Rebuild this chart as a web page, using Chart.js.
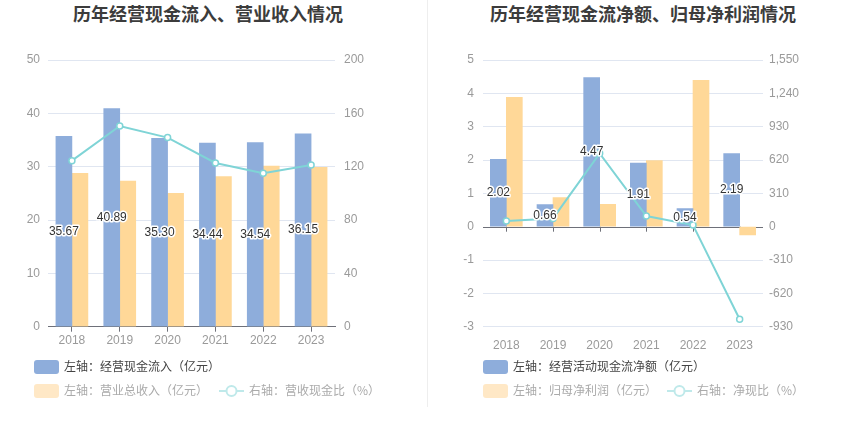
<!DOCTYPE html>
<html>
<head>
<meta charset="utf-8">
<script src="https://cdn.jsdelivr.net/npm/chart.js@4/dist/chart.umd.min.js"></script>
<style>
  html, body { margin: 0; padding: 0; background: #fff; }
  body { width: 850px; height: 437px; position: relative; overflow: hidden;
         font-family: 'Liberation Sans', 'Noto Sans CJK SC', sans-serif; }
  .title { position: absolute; top: 2px; height: 22px; line-height: 22px; text-align: center;
           font-family: 'Noto Sans CJK SC', sans-serif; font-weight: bold; font-size: 18px; color: #3c3c3c; white-space: nowrap; }
  .divider { position: absolute; left: 427px; top: 0; width: 1px; height: 407px; background: #eeeeee; }
  canvas { position: absolute; top: 0; }
  .lg { position: absolute; height: 14px; line-height: 14px; font-size: 12px; white-space: nowrap;
        font-family: 'Noto Sans CJK SC', sans-serif; }
  .lg .box { position: absolute; left: 0; top: 0; width: 25px; height: 14px; border-radius: 3px; }
  .lg .sym { position: absolute; left: 0; top: 0; width: 25px; height: 14px; }
  .lg .txt { position: absolute; left: 30px; top: -1px; }
</style>
</head>
<body>
<div class="title" style="left:0;width:416px;">历年经营现金流入、营业收入情况</div>
<div class="title" style="left:425px;width:436px;">历年经营现金流净额、归母净利润情况</div>
<div class="divider"></div>
<canvas id="c1" width="425" height="437" style="left:0"></canvas>
<canvas id="c2" width="425" height="437" style="left:425px"></canvas>
<div id="legends"></div>
<script>
// ---------- data ----------
const years = ['2018', '2019', '2020', '2021', '2022', '2023'];

// left chart
const cashInflow = [35.67, 40.89, 35.30, 34.44, 34.54, 36.15];   // 亿元
const totalRevenue = [28.75, 27.31, 25.00, 28.13, 30.13, 29.88]; // 亿元
const revenueCashRatio = [124.5, 150.5, 141.8, 122.8, 115.0, 121.3]; // %
const leftTicks = { min: 0, max: 50, step: 10 };
const leftTicksR = { min: 0, max: 200, step: 40 };

// right chart
const netCashFlow = [2.02, 0.66, 4.47, 1.91, 0.54, 2.19];       // 亿元
const netProfit = [3.88, 0.87, 0.67, 1.98, 4.39, -0.25];         // 亿元
const netCashRatio = [52.5, 77.0, 682.0, 99.0, 15.5, -861.0];    // %
const rightTicks = { min: -3, max: 5, step: 1 };
const rightTicksR = { min: -930, max: 1550, step: 310 };

const labels1 = ['左轴：经营现金流入（亿元）', '左轴：营业总收入（亿元）', '右轴：营收现金比（%）'];
const labels2 = ['左轴：经营活动现金流净额（亿元）', '左轴：归母净利润（亿元）', '右轴：净现比（%）'];

// ---------- styles ----------
const BLUE = '#8eaddb';
const ORANGE = '#ffd898';
const CYAN = '#7fd4d6';
const GRID = '#e0e6f1';
const AXIS = '#6e7079';
const TICK = '#9a9a9a';
const FONT = "'Liberation Sans', 'Noto Sans CJK SC', sans-serif";

Chart.defaults.font.family = FONT;
Chart.defaults.font.size = 12;
Chart.defaults.color = TICK;

const barLabelPlugin = {
  id: 'barLabels',
  afterDatasetsDraw(chart) {
    const meta = chart.getDatasetMeta(0);
    const ctx = chart.ctx;
    ctx.save();
    ctx.font = '12px ' + FONT;
    ctx.textAlign = 'center';
    ctx.textBaseline = 'middle';
    ctx.lineJoin = 'round';
    meta.data.forEach((el, i) => {
      const v = chart.data.datasets[0].data[i];
      const txt = v.toFixed(2);
      const y = (el.y + el.base) / 2;
      ctx.strokeStyle = '#ffffff';
      ctx.lineWidth = 3;
      ctx.strokeText(txt, el.x, y);
      ctx.fillStyle = '#333333';
      ctx.fillText(txt, el.x, y);
    });
    ctx.restore();
  }
};

const zeroTickPlugin = {
  id: 'zeroTicks',
  beforeDatasetsDraw(chart, args, opts) {
    if (!opts || !opts.enabled) return;
    const xs = chart.scales.x, ys = chart.scales.y;
    const y0 = ys.getPixelForValue(0);
    const ctx = chart.ctx;
    ctx.save();
    ctx.strokeStyle = AXIS;
    ctx.lineWidth = 1;
    ctx.beginPath();
    ctx.moveTo(chart.chartArea.left, Math.round(y0) + 0.5);
    ctx.lineTo(chart.chartArea.right, Math.round(y0) + 0.5);
    for (let i = 0; i < chart.data.labels.length; i++) {
      const x = Math.round(xs.getPixelForValue(i)) + 0.5;
      ctx.moveTo(x, y0);
      ctx.lineTo(x, y0 + 5);
    }
    ctx.stroke();
    ctx.restore();
  }
};

function makeChart(id, bars1, bars2, line, names, tL, tR, dims) {
  return new Chart(document.getElementById(id), {
    type: 'bar',
    data: {
      labels: years,
      datasets: [
        { type: 'bar', label: names[0], data: bars1, backgroundColor: BLUE, yAxisID: 'y',
          barThickness: 16, categoryPercentage: 0.8, barPercentage: 0.9, order: 2 },
        { type: 'bar', label: names[1], data: bars2, backgroundColor: ORANGE, yAxisID: 'y',
          barThickness: 16, categoryPercentage: 0.8, barPercentage: 0.9, order: 2 },
        { type: 'line', label: names[2], data: line, yAxisID: 'y1', borderColor: CYAN, borderWidth: 2,
          pointRadius: 3, pointBorderWidth: 1.5, pointBackgroundColor: '#ffffff', pointBorderColor: CYAN,
          tension: 0, fill: false, order: 1 }
      ]
    },
    options: {
      responsive: false,
      animation: false,
      devicePixelRatio: 1,
      layout: { padding: { top: 60, bottom: 80.3, left: 0, right: 0 } },
      plugins: {
        legend: { display: false },
        tooltip: { enabled: false },
        title: { display: false },
        zeroTicks: { enabled: dims.zeroLine }
      },
      scales: {
        x: {
          offset: true,
          afterFit: s => { s.height = 30; },
          border: { display: !dims.zeroLine, color: AXIS, width: 1 },
          grid: { display: !dims.zeroLine, drawOnChartArea: false, drawTicks: true, tickLength: 5,
                  offset: false, tickColor: AXIS },
          ticks: { padding: dims.zeroLine ? 7 : 2, color: TICK, font: { size: 12 }, maxRotation: 0 }
        },
        y: {
          position: 'left',
          min: tL.min, max: tL.max,
          afterFit: s => { s.width = dims.leftW; },
          border: { display: false },
          grid: { color: c => (dims.zeroLine && c.tick && c.tick.value === 0) ? 'rgba(0,0,0,0)' : GRID,
                  drawTicks: false, lineWidth: 1 },
          ticks: { stepSize: tL.step, padding: dims.padL, color: TICK, font: { size: 12 } }
        },
        y1: {
          position: 'right',
          min: tR.min, max: tR.max,
          afterFit: s => { s.width = dims.rightW; },
          border: { display: false },
          grid: { drawOnChartArea: false, drawTicks: false },
          ticks: { stepSize: tR.step, padding: dims.padR, color: TICK, font: { size: 12 } }
        }
      }
    },
    plugins: [barLabelPlugin, zeroTickPlugin]
  });
}

makeChart('c1', cashInflow, totalRevenue, revenueCashRatio, labels1, leftTicks, leftTicksR,
  { leftW: 48, rightW: 90, padL: 8, padR: 9, zeroLine: false });
makeChart('c2', netCashFlow, netProfit, netCashRatio, labels2, rightTicks, rightTicksR,
  { leftW: 58, rightW: 87, padL: 9, padR: 6, zeroLine: true });

// ---------- HTML legends ----------
function addLegend(x, y, text, kind, color, textColor) {
  const d = document.createElement('div');
  d.className = 'lg';
  d.style.left = x + 'px';
  d.style.top = y + 'px';
  if (kind === 'box') {
    const b = document.createElement('div');
    b.className = 'box';
    b.style.background = color;
    d.appendChild(b);
  } else {
    const c = document.createElement('canvas');
    c.className = 'sym';
    c.width = 25; c.height = 14;
    c.style.position = 'absolute';
    const g = c.getContext('2d');
    g.strokeStyle = color; g.lineWidth = 2;
    g.beginPath(); g.moveTo(0, 7); g.lineTo(25, 7); g.stroke();
    g.beginPath(); g.arc(12.5, 7, 5, 0, Math.PI * 2);
    g.fillStyle = '#fff'; g.fill(); g.stroke();
    d.appendChild(c);
  }
  const t = document.createElement('span');
  t.className = 'txt';
  t.style.color = textColor;
  t.textContent = text;
  d.appendChild(t);
  document.getElementById('legends').appendChild(d);
}
addLegend(34, 360, labels1[0], 'box', BLUE, '#444');
addLegend(34, 384, labels1[1], 'box', '#ffe8c6', '#aaa');
addLegend(219, 384, labels1[2], 'line', '#bfe9ea', '#aaa');
addLegend(483, 360, labels2[0], 'box', BLUE, '#444');
addLegend(483, 384, labels2[1], 'box', '#ffe8c6', '#aaa');
addLegend(667, 384, labels2[2], 'line', '#bfe9ea', '#aaa');
</script>
</body>
</html>
